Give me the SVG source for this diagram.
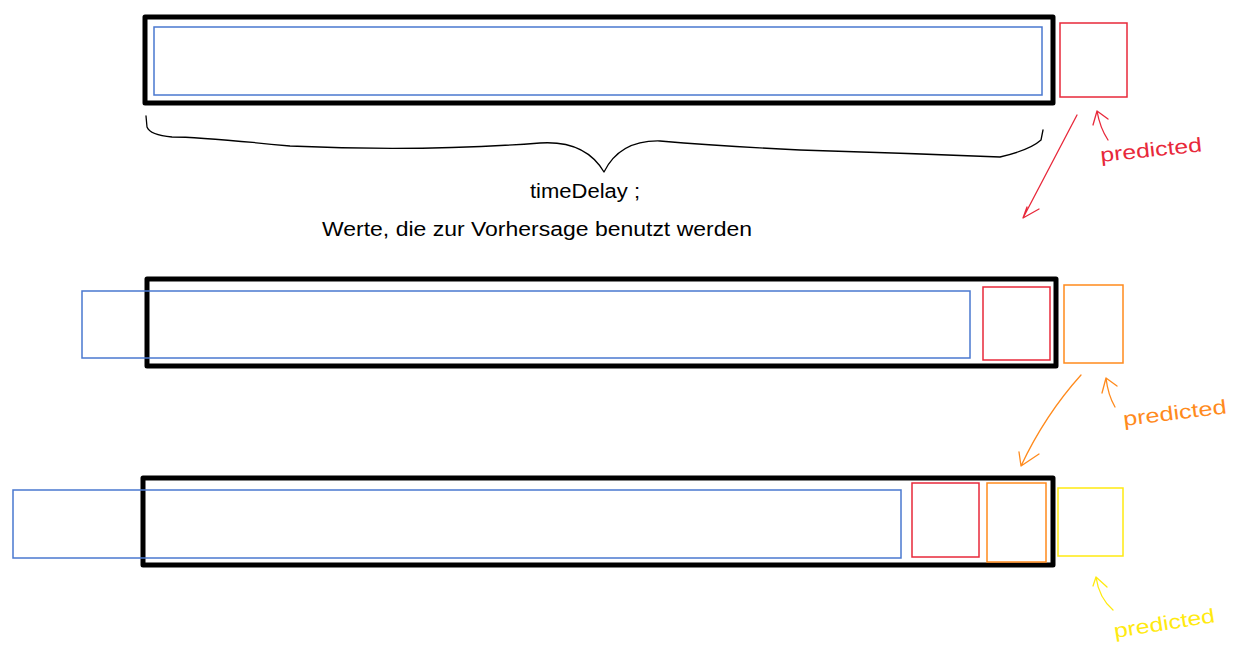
<svg xmlns="http://www.w3.org/2000/svg" width="1243" height="658" viewBox="0 0 1243 658">
<style>
.frame{fill:none;stroke:#000;stroke-width:5;stroke-linejoin:round}
.blue{fill:none;stroke:#4a78cf;stroke-width:1.5}
.red{fill:none;stroke:#e8283a;stroke-width:1.5}
.orange{fill:none;stroke:#ff8a1c;stroke-width:1.5}
.yellow{fill:none;stroke:#ffea10;stroke-width:1.5}
.ink{fill:none;stroke-width:1.3;stroke-linecap:round;stroke-linejoin:round}
.hand{font-family:"Liberation Sans",Arial,sans-serif;font-size:20px}
</style>
<rect width="1243" height="658" fill="#fff"/>
<g id="row1">
<rect class="frame" x="145" y="17" width="908" height="86"/>
<rect class="blue" x="154" y="27" width="888" height="68"/>
<rect class="red" x="1060" y="23" width="67" height="74"/>
</g>
<g id="row2">
<rect class="frame" x="147" y="279" width="909" height="87"/>
<rect class="blue" x="82" y="291" width="888" height="67"/>
<rect class="red" x="983" y="287" width="67" height="73"/>
<rect class="orange" x="1064" y="285" width="59" height="78"/>
</g>
<g id="row3">
<rect class="frame" x="143" y="478" width="910" height="87"/>
<rect class="blue" x="13" y="490" width="888" height="68"/>
<rect class="red" x="912" y="483" width="67" height="74"/>
<rect class="orange" x="987" y="483" width="59" height="79"/>
<rect class="yellow" x="1058" y="488" width="65" height="68"/>
</g>
<g id="brace">
<path class="ink" stroke="#000" d="M146,116 L147,127 Q150,135 172,137 Q200,137 290,146 Q420,152 540,143 Q585,140 604,172 Q620,140 660,141 Q720,146 800,150 Q900,153 1000,157 Q1030,150 1041,140 L1043,130"/>
</g>
<g id="labels">
<text class="hand" x="585" y="198" text-anchor="middle" textLength="110" lengthAdjust="spacingAndGlyphs">timeDelay ;</text>
<text class="hand" x="322" y="236" textLength="430" lengthAdjust="spacingAndGlyphs">Werte, die zur Vorhersage benutzt werden</text>
<text class="hand" fill="#e8283a" transform="translate(1101,162) rotate(-6)" textLength="102" lengthAdjust="spacingAndGlyphs">predicted</text>
<text class="hand" fill="#ff8a1c" transform="translate(1124,426) rotate(-7)" textLength="104" lengthAdjust="spacingAndGlyphs">predicted</text>
<text class="hand" fill="#ffea10" transform="translate(1115,638) rotate(-9)" textLength="102" lengthAdjust="spacingAndGlyphs">predicted</text>
</g>
<g id="connectors">
<path class="ink" stroke="#e8283a" d="M1077,115 L1023,218 M1027,207 L1023,218 L1039,209"/>
<path class="ink" stroke="#e8283a" d="M1108,140 Q1100,128 1097,111 M1093,125 L1097,111 L1108,119"/>
<path class="ink" stroke="#ff8a1c" d="M1081,375 Q1045,415 1021,466 M1019,452 L1021,466 L1039,454"/>
<path class="ink" stroke="#ff8a1c" d="M1115,407 Q1108,395 1106,378 M1102,393 L1106,378 L1117,386"/>
<path class="ink" stroke="#ffea10" d="M1113,610 Q1099,598 1096,577 M1093,586 L1096,577 L1107,587"/>
</g>
</svg>
